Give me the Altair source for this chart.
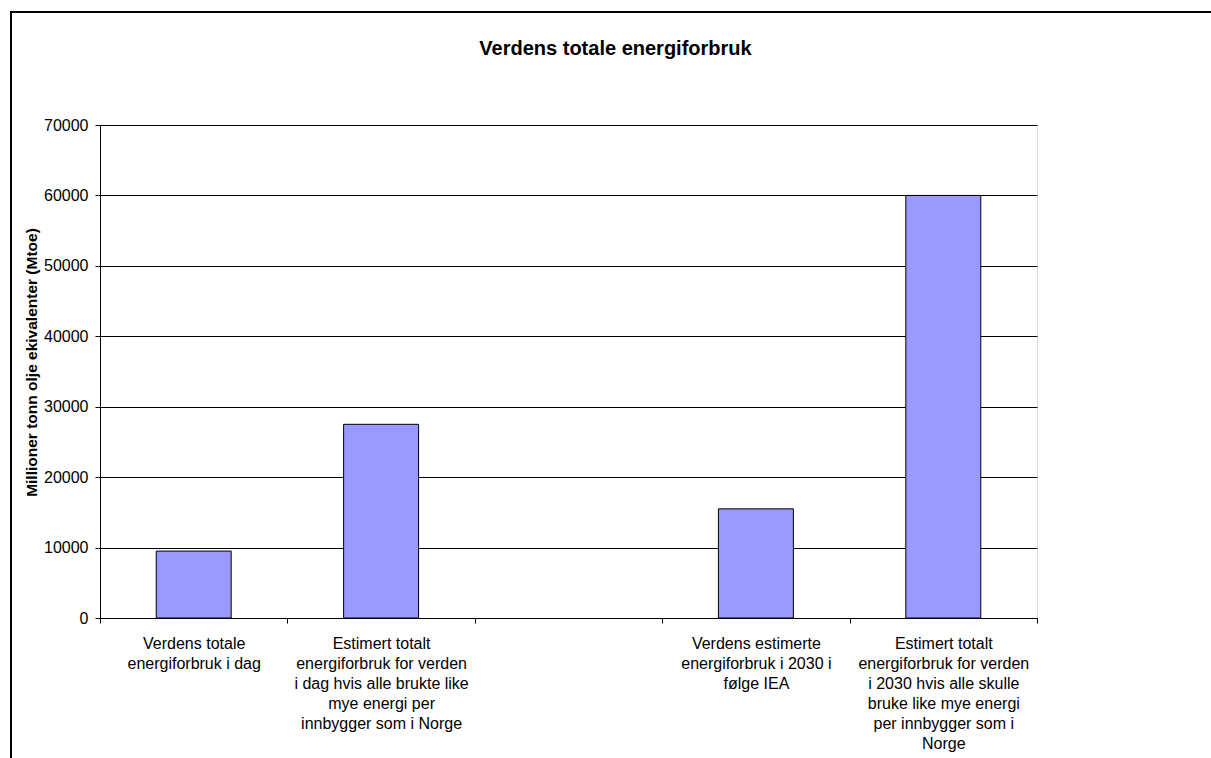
import altair as alt
import pandas as pd

# Category labels (line breaks marked with "|"); the third slot is intentionally empty
categories = [
    "Verdens totale|energiforbruk i dag",
    "Estimert totalt|energiforbruk for verden|i dag hvis alle brukte like|mye energi per|innbygger som i Norge",
    " ",
    "Verdens estimerte|energiforbruk i 2030 i|følge IEA",
    "Estimert totalt|energiforbruk for verden|i 2030 hvis alle skulle|bruke like mye energi|per innbygger som i|Norge",
]
bar_categories = [categories[0], categories[1], categories[3], categories[4]]
values_mtoe = [9500, 27500, 15500, 60000]
y_ticks = [0, 10000, 20000, 30000, 40000, 50000, 60000, 70000]

FONT = "Liberation Sans"

df = pd.DataFrame({"kategori": bar_categories, "mtoe": values_mtoe})

bars = alt.Chart(df).mark_bar(
    width=alt.RelativeBandSize(0.4),
    color="#9999FF",
    stroke="black",
    strokeWidth=1,
).encode(
    x=alt.X(
        "kategori:N",
        scale=alt.Scale(domain=categories, paddingInner=0, paddingOuter=0),
        axis=alt.Axis(
            title=None,
            labelAngle=0,
            labelExpr="split(datum.label, '|')",
            labelFont=FONT,
            labelFontSize=16,
            labelLineHeight=20,
            labelColor="black",
            labelBaseline="top",
            labelPadding=12,
            labelLimit=0,
            tickBand="extent",
            tickSize=5,
            tickColor="black",
            domainColor="black",
            grid=False,
        ),
    ),
    y=alt.Y(
        "mtoe:Q",
        scale=alt.Scale(domain=[0, 70000], nice=False),
        axis=alt.Axis(
            title="Millioner tonn olje ekivalenter (Mtoe)",
            titleFont=FONT,
            titleFontSize=15.5,
            titleFontWeight="bold",
            titleColor="black",
            titlePadding=4,
            titleY=237,
            values=y_ticks,
            format="d",
            labelFont=FONT,
            labelFontSize=16,
            labelColor="black",
            labelPadding=7,
            tickSize=5,
            tickColor="black",
            domainColor="black",
            gridColor="black",
            gridWidth=1,
        ),
    ),
)

# Outer chart-area border
frame = alt.Chart(alt.Data(values=[{}])).mark_rect(
    fill=None, stroke="black", strokeWidth=2
).encode(
    x=alt.value(-89),
    x2=alt.value(1300),
    y=alt.value(-113),
    y2=alt.value(900),
)

chart = alt.layer(bars, frame).properties(
    width=937,
    height=493,
    title=alt.TitleParams(
        "Verdens totale energiforbruk",
        font=FONT,
        fontSize=20,
        fontWeight="bold",
        color="black",
        anchor="middle",
        baseline="alphabetic",
        dx=47,
        offset=-64,
    ),
    autosize=alt.AutoSizeParams(type="none"),
    padding={"left": 100, "top": 125, "right": 174, "bottom": 140},
).configure_view(
    stroke="#808080", strokeWidth=1
).configure(background="white")

chart.save("out.html", embed_options={"renderer": "svg", "actions": False})
